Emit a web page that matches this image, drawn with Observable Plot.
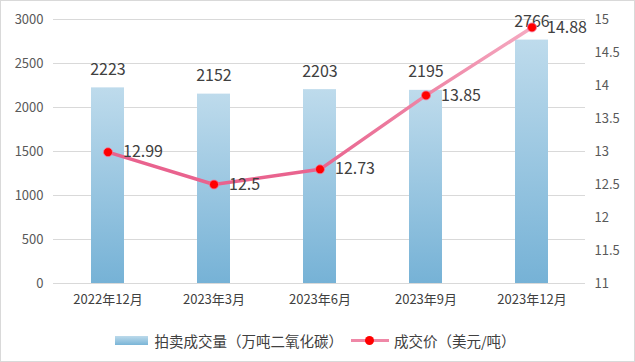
<!DOCTYPE html>
<html>
<head>
<meta charset="utf-8">
<script src="https://cdn.jsdelivr.net/npm/d3@7"></script>
<script src="https://cdn.jsdelivr.net/npm/@observablehq/plot@0.6"></script>
<style>
  html, body { margin: 0; padding: 0; background: #fff; }
  #frame { box-sizing: border-box; width: 635px; height: 362px; border: 1px solid #d9d9d9; overflow: hidden; font-family: "Noto Sans CJK SC", "Noto Sans", sans-serif; }
  #legend { display: flex; justify-content: center; align-items: center; height: 38px; font-size: 14.5px; color: #404040; margin-left: -4px; }
  .item { display: flex; align-items: center; margin: 0 4px; }
  .sw-bar { width: 33px; height: 9px; background: linear-gradient(#bcdaeb, #7ab5d7); margin-right: 6px; }
  .sw-line { position: relative; width: 38px; height: 12px; margin-right: 5px; }
  .sw-line::before { content: ""; position: absolute; left: 0; right: 0; top: 4.5px; height: 3.5px; background: #ef88a7; }
  .sw-line::after { content: ""; position: absolute; left: 14px; top: 1.5px; width: 9px; height: 9px; border-radius: 50%; background: #ff0000; }
</style>
</head>
<body>
<div id="frame">
  <div id="chart"></div>
  <div id="legend">
    <div class="item"><span class="sw-bar"></span><span id="lg1"></span></div>
    <div class="item"><span class="sw-line"></span><span id="lg2"></span></div>
  </div>
</div>
<script>
const categories = ["2022年12月", "2023年3月", "2023年6月", "2023年9月", "2023年12月"];
const volume = [2223, 2152, 2203, 2195, 2766];
const price = [12.99, 12.5, 12.73, 13.85, 14.88];
const leftTicks = [0, 500, 1000, 1500, 2000, 2500, 3000];
const rightTicks = [11, 11.5, 12, 12.5, 13, 13.5, 14, 14.5, 15];
const seriesNames = ["拍卖成交量（万吨二氧化碳）", "成交价（美元/吨）"];

document.getElementById("lg1").textContent = seriesNames[0];
document.getElementById("lg2").textContent = seriesNames[1];

const leftMax = 3000, rightMin = 11, rightMax = 15;
const toY = p => (p - rightMin) / (rightMax - rightMin) * leftMax;

const data = categories.map((c, i) => ({cat: c, vol: volume[i], price: price[i]}));

const txt = "#404040";
const chart = Plot.plot({
  width: 633,
  height: 320,
  marginTop: 18,
  marginBottom: 38,
  marginLeft: 52,
  marginRight: 49,
  style: {fontFamily: '"Noto Sans CJK SC", "Noto Sans", sans-serif', background: "transparent"},
  x: {domain: categories, paddingInner: 0.69, paddingOuter: 0.345, label: null},
  y: {domain: [0, leftMax], label: null},
  marks: [
    Plot.gridY(leftTicks, {stroke: "#d9d9d9", strokeOpacity: 1}),
    Plot.axisY(leftTicks, {anchor: "left", tickSize: 0, tickPadding: 10, fontSize: 13, fill: "#595959", label: null, tickFormat: d => String(d)}),
    Plot.text(rightTicks, {y: d => toY(d), text: d => String(d), frameAnchor: "right", dx: 9, textAnchor: "start", fontSize: 13, fill: "#595959"}),
    Plot.axisX({tickSize: 0, tickPadding: 11, fontSize: 13, fill: txt, label: null}),
    Plot.barY(data, {x: "cat", y: "vol", fill: "url(#barGrad)"}),
    Plot.text(data, {x: "cat", y: "vol", text: d => String(d.vol), dy: -18, fontSize: 16, fill: txt}),
    Plot.line(data, {x: "cat", y: d => toY(d.price), stroke: "url(#lineGrad)", strokeWidth: 3.5, curve: "linear"}),
    Plot.dot(data, {x: "cat", y: d => toY(d.price), r: 4.5, fill: "#ff0000", stroke: "#f37aa0", strokeWidth: 0.8}),
    Plot.text(data, {x: "cat", y: d => toY(d.price), text: d => String(d.price), dx: 15, textAnchor: "start", fontSize: 16, fill: txt})
  ]
});

const svg = d3.select(chart);
const defs = svg.insert("defs", ":first-child");
const bg = defs.append("linearGradient").attr("id", "barGrad").attr("x1", 0).attr("y1", 0).attr("x2", 0).attr("y2", 1);
bg.append("stop").attr("offset", "0%").attr("stop-color", "#bedbec");
bg.append("stop").attr("offset", "100%").attr("stop-color", "#76b2d6");
const lg = defs.append("linearGradient").attr("id", "lineGrad").attr("x1", 0).attr("y1", 0).attr("x2", 1).attr("y2", 0);
lg.append("stop").attr("offset", "0%").attr("stop-color", "#e9628e");
lg.append("stop").attr("offset", "50%").attr("stop-color", "#e9648f");
lg.append("stop").attr("offset", "75%").attr("stop-color", "#ee85a5");
lg.append("stop").attr("offset", "100%").attr("stop-color", "#f5aac1");

document.getElementById("chart").appendChild(chart);
</script>
</body>
</html>
